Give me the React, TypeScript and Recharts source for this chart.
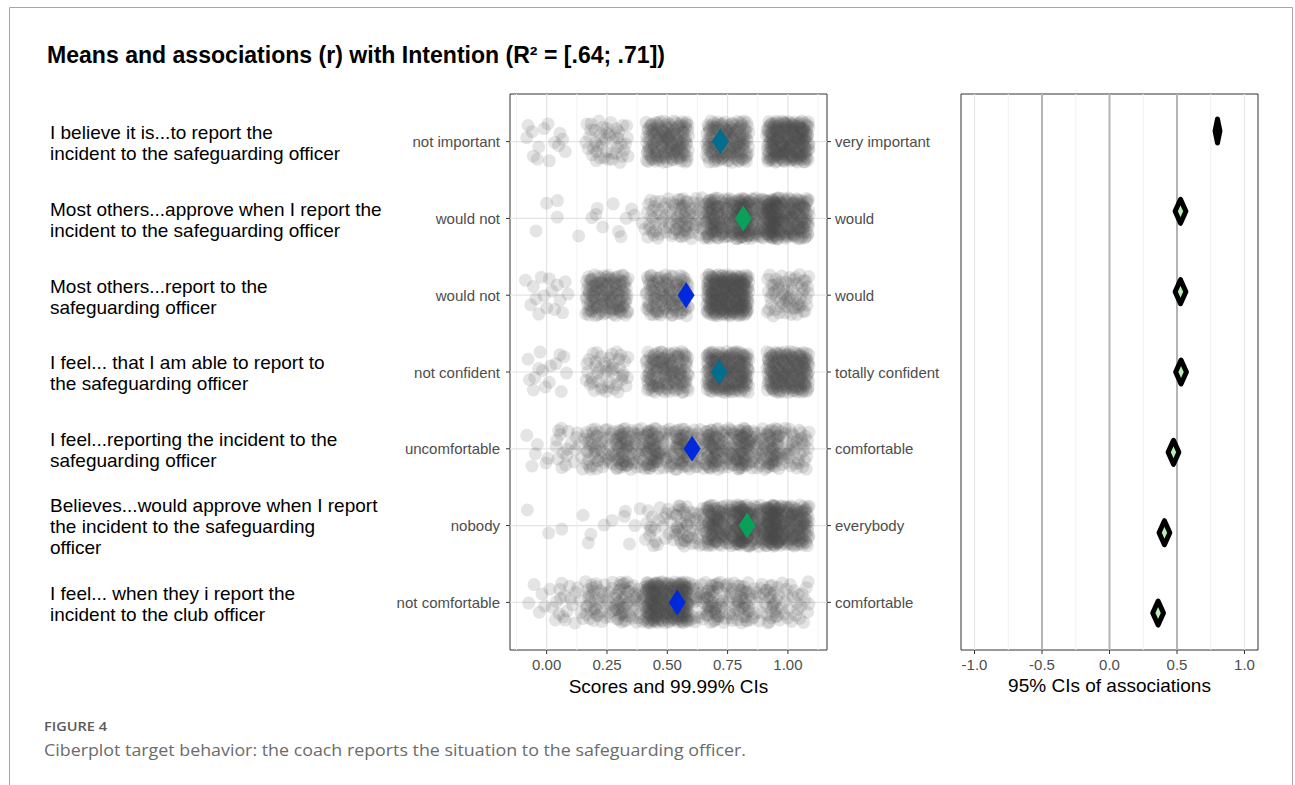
import React from "react";
import { ScatterChart, Scatter, XAxis, YAxis, ReferenceLine, ReferenceArea } from "recharts";

const FONT = "'Liberation Sans', Arial, Helvetica, sans-serif";

// items, top row first
const ITEM_LABELS = [
  "I believe it is...to report the\nincident to the safeguarding officer",
  "Most others...approve when I report the\nincident to the safeguarding officer",
  "Most others...report to the\nsafeguarding officer",
  "I feel... that I am able to report to\nthe safeguarding officer",
  "I feel...reporting the incident to the\nsafeguarding officer",
  "Believes...would approve when I report\nthe incident to the safeguarding\nofficer",
  "I feel... when they i report the\nincident to the club officer",
];
const LEFT_ANCHORS = ["not important", "would not", "would not", "not confident", "uncomfortable", "nobody", "not comfortable"];
const RIGHT_ANCHORS = ["very important", "would", "would", "totally confident", "comfortable", "everybody", "comfortable"];

// means with 99.99% CIs
const MEANS = [0.72, 0.815, 0.578, 0.715, 0.603, 0.831, 0.541];
const MEAN_CI_LO = [0.685, 0.78, 0.543, 0.68, 0.568, 0.796, 0.506];
const MEAN_CI_HI = [0.755, 0.85, 0.613, 0.75, 0.638, 0.866, 0.576];

// associations with intention (r) and 95% CIs
const R_VALUES = [0.8, 0.526, 0.526, 0.53, 0.474, 0.407, 0.36];
const R_CI_LO = [0.782, 0.486, 0.486, 0.49, 0.434, 0.367, 0.32];
const R_CI_HI = [0.818, 0.566, 0.566, 0.57, 0.514, 0.447, 0.4];

// response levels and how many respondents gave each
const LEVELS_5 = [0, 0.25, 0.5, 0.75, 1];
const LEVELS_9 = [0, 0.125, 0.25, 0.375, 0.5, 0.625, 0.75, 0.875, 1];
const SCORE_LEVELS = [LEVELS_5, LEVELS_9, LEVELS_5, LEVELS_5, LEVELS_9, LEVELS_9, LEVELS_9];
const SCORE_COUNTS = [
  [14, 45, 150, 150, 220],
  [3, 3, 5, 8, 50, 60, 140, 140, 178],
  [16, 138, 118, 245, 63],
  [15, 45, 135, 195, 190],
  [10, 24, 64, 84, 78, 72, 100, 84, 64],
  [2, 3, 4, 6, 30, 55, 150, 150, 185],
  [10, 24, 50, 60, 210, 60, 60, 42, 36],
];

const ROWS = [1, 2, 3, 4, 5, 6, 7];
const L_X_TICKS = [0, 0.25, 0.5, 0.75, 1];
const L_X_MINOR = [-0.125, 0.125, 0.375, 0.625, 0.875, 1.125];
const R_X_TICKS = [-1, -0.5, 0, 0.5, 1];
const R_X_MINOR = [-0.75, -0.25, 0.25, 0.75];
const R_X_REFS = [-0.5, 0, 0.5];

const MEAN_COLORS = ["#006e8c", "#0aa05a", "#0028dc", "#006e8c", "#0028dc", "#0aa05a", "#0028dc"];

const L_X_DOMAIN = [-0.152, 1.162];
const L_Y_DOMAIN = [0.38, 7.62];
const L_PX = 317 / (L_X_DOMAIN[1] - L_X_DOMAIN[0]);
const R_X_DOMAIN = [-1.1, 1.1];
const R_Y_DOMAIN = [0.54, 7.46];
const R_PX = 297 / (R_X_DOMAIN[1] - R_X_DOMAIN[0]);

const rowY = (i: number) => 7 - i;

// quasi-random sequence used only for the jitter of the dots
function halton(i: number, b: number) {
  let f = 1;
  let r = 0;
  while (i > 0) {
    f /= b;
    r += f * (i % b);
    i = Math.floor(i / b);
  }
  return r;
}

const JX = 0.088;
const JY = 0.27;
const dots: { x: number; y: number }[] = [];
SCORE_COUNTS.forEach((counts, r) => {
  counts.forEach((n, j) => {
    const seed = 7 + r * 1013 + j * 211;
    for (let k = 0; k < n; k++) {
      dots.push({
        x: SCORE_LEVELS[r][j] + (halton(seed + k, 2) * 2 - 1) * JX,
        y: rowY(r) + (halton(seed + k, 3) * 2 - 1) * JY,
      });
    }
  });
});

const means = MEANS.map((m, i) => ({ x: m, y: rowY(i), lo: MEAN_CI_LO[i], hi: MEAN_CI_HI[i], row: i }));
const assoc = R_VALUES.map((r, i) => ({ x: r, y: rowY(i), lo: R_CI_LO[i], hi: R_CI_HI[i], row: i }));

const Dot = (p: any) => <circle cx={p.cx} cy={p.cy} r={6.5} fill="#4d4d4d" fillOpacity={0.15} />;

const MeanDiamond = (p: any) => {
  const d = p.payload;
  const hw = ((d.hi - d.lo) / 2) * L_PX;
  const hh = 13;
  return (
    <polygon
      points={`${p.cx - hw},${p.cy} ${p.cx},${p.cy - hh} ${p.cx + hw},${p.cy} ${p.cx},${p.cy + hh}`}
      fill={MEAN_COLORS[d.row]}
    />
  );
};

const AssocDiamond = (p: any) => {
  const d = p.payload;
  const hw = ((d.hi - d.lo) / 2) * R_PX;
  const hh = 12;
  return (
    <polygon
      points={`${p.cx - hw},${p.cy} ${p.cx},${p.cy - hh} ${p.cx + hw},${p.cy} ${p.cx},${p.cy + hh}`}
      fill="#b8eeb8"
      stroke="#000"
      strokeWidth={5}
      strokeLinejoin="round"
    />
  );
};

const ITEM_X = 50;
const LINE_H = 21;

const LeftTick = (p: any) => {
  const i = 7 - p.payload.value;
  const lines = ITEM_LABELS[i].split("\n");
  const y0 = p.y + 1 - ((lines.length - 1) * LINE_H) / 2;
  return (
    <g>
      <text x={p.x} y={p.y} dy="0.38em" textAnchor="end" fontSize={15} fill="#4d4d4d" fontFamily={FONT}>
        {LEFT_ANCHORS[i]}
      </text>
      <text fontSize={19} fill="#000" fontFamily={FONT}>
        {lines.map((l, k) => (
          <tspan key={k} x={ITEM_X} y={y0 + k * LINE_H} dy="0.36em">
            {l}
          </tspan>
        ))}
      </text>
    </g>
  );
};

const RightTick = (p: any) => {
  const i = 7 - p.payload.value;
  return (
    <text x={p.x} y={p.y} dy="0.38em" textAnchor="start" fontSize={15} fill="#4d4d4d" fontFamily={FONT}>
      {RIGHT_ANCHORS[i]}
    </text>
  );
};

export default function App() {
  return (
    <div style={{ position: "fixed", left: 0, top: 0, width: 1295, height: 785, background: "#fff", fontFamily: FONT }}>
      <div style={{ position: "absolute", left: 0, top: 0 }}>
        <ScatterChart width={957} height={710} margin={{ top: 94, right: 0, bottom: 0, left: 0 }}>
          <XAxis
            type="number"
            dataKey="x"
            domain={L_X_DOMAIN}
            ticks={L_X_TICKS}
            interval={0}
            allowDataOverflow
            tickFormatter={(v: number) => v.toFixed(2)}
            tick={{ fill: "#4d4d4d", fontSize: 15 }}
            tickLine={{ stroke: "#333" }}
            tickSize={4}
            tickMargin={5}
            axisLine={false}
            height={60}
            label={{ value: "Scores and 99.99% CIs", position: "insideBottom", offset: 17, fill: "#000", fontSize: 19 }}
          />
          <YAxis
            yAxisId="l"
            type="number"
            dataKey="y"
            domain={L_Y_DOMAIN}
            ticks={ROWS}
            interval={0}
            allowDataOverflow
            width={510}
            tick={(p: any) => <LeftTick {...p} />}
            tickSize={4}
            tickMargin={6}
            tickLine={{ stroke: "#333" }}
            axisLine={false}
          />
          <YAxis
            yAxisId="r"
            orientation="right"
            type="number"
            dataKey="y"
            domain={L_Y_DOMAIN}
            ticks={ROWS}
            interval={0}
            allowDataOverflow
            width={130}
            tick={(p: any) => <RightTick {...p} />}
            tickSize={4}
            tickMargin={4}
            tickLine={{ stroke: "#333" }}
            axisLine={false}
          />
          {L_X_MINOR.map((v) => (
            <ReferenceLine key={"mn" + v} yAxisId="l" x={v} stroke="#f2f2f2" strokeWidth={1} />
          ))}
          {L_X_TICKS.map((v) => (
            <ReferenceLine key={"mj" + v} yAxisId="l" x={v} stroke="#e4e4e4" strokeWidth={1.2} />
          ))}
          {ROWS.map((v) => (
            <ReferenceLine key={"h" + v} yAxisId="l" y={v} stroke="#e4e4e4" strokeWidth={1.2} />
          ))}
          <Scatter yAxisId="l" data={dots} shape={Dot} isAnimationActive={false} />
          <Scatter yAxisId="r" data={means} shape={MeanDiamond} isAnimationActive={false} />
          <ReferenceArea
            yAxisId="l"
            x1={L_X_DOMAIN[0]}
            x2={L_X_DOMAIN[1]}
            y1={L_Y_DOMAIN[0]}
            y2={L_Y_DOMAIN[1]}
            fill="none"
            fillOpacity={0}
            stroke="#333"
            strokeWidth={1}
          />
        </ScatterChart>
      </div>
      <div style={{ position: "absolute", left: 940, top: 0 }}>
        <ScatterChart width={340} height={710} margin={{ top: 94, right: 22, bottom: 0, left: 21 }}>
          <XAxis
            type="number"
            dataKey="x"
            domain={R_X_DOMAIN}
            ticks={R_X_TICKS}
            interval={0}
            allowDataOverflow
            tickFormatter={(v: number) => v.toFixed(1)}
            tick={{ fill: "#4d4d4d", fontSize: 15 }}
            tickLine={{ stroke: "#333" }}
            tickSize={4}
            tickMargin={5}
            axisLine={false}
            height={60}
            label={{ value: "95% CIs of associations", position: "insideBottom", offset: 18, fill: "#000", fontSize: 19 }}
          />
          <YAxis type="number" dataKey="y" domain={R_Y_DOMAIN} allowDataOverflow hide width={0} />
          {R_X_MINOR.map((v) => (
            <ReferenceLine key={"mn" + v} x={v} stroke="#f0f0f0" strokeWidth={1} />
          ))}
          {R_X_TICKS.map((v) => (
            <ReferenceLine key={"mj" + v} x={v} stroke="#e6e6e6" strokeWidth={1.2} />
          ))}
          {R_X_REFS.map((v) => (
            <ReferenceLine key={"rf" + v} x={v} stroke="#b5b5b5" strokeWidth={2} />
          ))}
          <Scatter data={assoc} shape={AssocDiamond} isAnimationActive={false} />
          <ReferenceArea
            x1={R_X_DOMAIN[0]}
            x2={R_X_DOMAIN[1]}
            y1={R_Y_DOMAIN[0]}
            y2={R_Y_DOMAIN[1]}
            fill="none"
            fillOpacity={0}
            stroke="#333"
            strokeWidth={1}
          />
        </ScatterChart>
      </div>
      <svg width={1295} height={785} style={{ position: "absolute", left: 0, top: 0, pointerEvents: "none" }}>
        <path d="M9.5,785 L9.5,7.5 L1292.5,7.5 L1292.5,785" fill="none" stroke="#a6a6a6" strokeWidth={1} />
        <text x={47} y={63} fontSize={23} fontWeight="bold" fill="#000" fontFamily={FONT} textLength={618} lengthAdjust="spacingAndGlyphs">
          Means and associations (r) with Intention (R² = [.64; .71])
        </text>
        <text x={44} y={731} fontSize={13} fontWeight={600} fill="#5a5a5a" fontFamily="'Open Sans', sans-serif" textLength={63} lengthAdjust="spacingAndGlyphs">
          FIGURE 4
        </text>
        <text x={44} y={756} fontSize={17} fill="#6b6b6b" fontFamily="'Open Sans', sans-serif" textLength={702} lengthAdjust="spacingAndGlyphs">
          Ciberplot target behavior: the coach reports the situation to the safeguarding officer.
        </text>
      </svg>
    </div>
  );
}
